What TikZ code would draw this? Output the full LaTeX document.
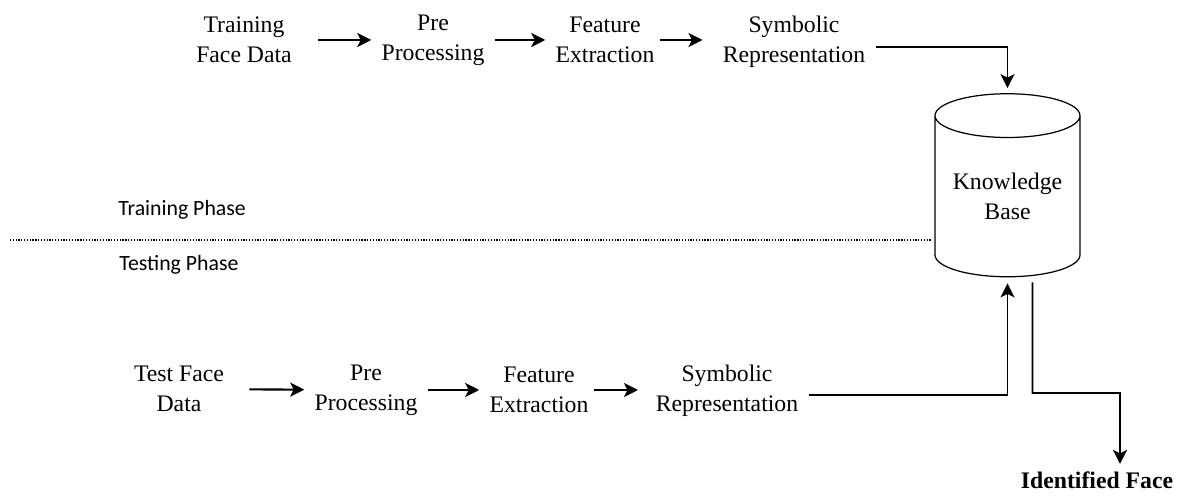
\documentclass[tikz,border=0pt]{standalone}
\usepackage{fontspec}
\setmainfont{Liberation Serif}
\newfontfamily\phasefont{Carlito}
\usetikzlibrary{arrows.meta, shapes.geometric, positioning, calc}

\begin{document}
\begin{tikzpicture}[
    stage/.style={
        align=center,
        inner sep=0.2cm,
        font=\fontsize{13.5}{17}\selectfont
    },
    phase/.style={
        anchor=west,
        inner sep=0pt,
        font=\phasefont\fontsize{12.4}{15}\selectfont
    },
    store/.style={
        cylinder,
        shape border rotate=90,
        aspect=0.4,
        minimum width=2.9cm,
        minimum height=3.66cm,
        inner sep=0pt,
        draw,
        line width=0.7pt,
        align=center,
        font=\fontsize{13.5}{17}\selectfont
    },
    flow/.style={
        -{Stealth[length=8pt, width=8pt, inset=2pt]},
        line width=1.2pt
    },
    link/.style={
        -{Stealth[length=8pt, width=8pt, inset=2pt]},
        line width=0.9pt
    }
]
\useasboundingbox (0,0) rectangle (23.58,-9.94);

% Training row
\node[stage] (trdata) at (4.88,-0.8) {Training\\Face Data};
\node[stage] (trpre) at (8.66,-0.8) {Pre\\Processing};
\node[stage] (trfeat) at (12.10,-0.8) {Feature\\Extraction};
\node[stage] (trsym) at (15.88,-0.84) {Symbolic\\Representation};

% Knowledge base
\node[store] (kb) at (20.15,-3.93) {Knowledge\\Base};

% Phases
\node[phase] (trphase) at (2.36,-4.2) {Training Phase};
\node[phase] (tsphase) at (2.38,-5.3) {Testing Phase};
\draw[line width=0.6pt, dash pattern=on 0.7pt off 0.9pt] (0.2,-4.8) -- (18.64,-4.8);

% Testing row
\node[stage] (tsdata) at (3.58,-7.78) {Test Face\\Data};
\node[stage] (tspre) at (7.32,-7.8) {Pre\\Processing};
\node[stage] (tsfeat) at (10.78,-7.8) {Feature\\Extraction};
\node[stage] (tssym) at (14.54,-7.82) {Symbolic\\Representation};

% Output
\node[font=\bfseries\fontsize{13.5}{17}\selectfont, inner sep=0pt, anchor=base] (idface) at (21.94,-9.78) {Identified Face};

% Connections
\draw[flow, shorten <=0.32cm] (trdata) -- (trpre);
\draw[flow] (trpre) -- (trfeat);
\draw[flow, shorten <=-0.1cm, shorten >=0.2cm] (trfeat) -- (trsym.west |- trfeat);
\draw[link, shorten >=0.1cm] ([yshift=-0.1cm]trsym.east) -| (kb.north);

\draw[flow, shorten <=0.3cm] (tsdata) -- (tspre);
\draw[flow] (tspre) -- (tsfeat);
\draw[flow, shorten <=-0.1cm, shorten >=0.15cm] (tsfeat) -- (tssym.west |- tsfeat);
\draw[link, shorten >=0.12cm] ([yshift=-0.08cm]tssym.east) -| (kb.south);

\coordinate (kbout) at ($(kb.south)+(0.5,-0.1)$);
\coordinate (turn) at (22.4,-7.86);
\draw[link] (kbout) |- (turn) -- ([xshift=0.46cm, yshift=0.16cm]idface.north);

\end{tikzpicture}
\end{document}
